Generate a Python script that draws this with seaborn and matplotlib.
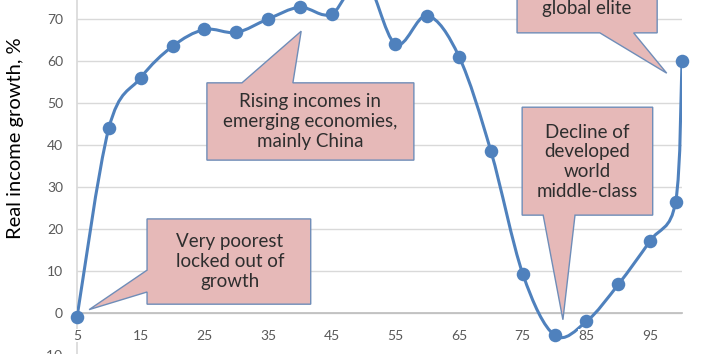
import numpy as np
import pandas as pd
import matplotlib
matplotlib.use("Agg")
import matplotlib.pyplot as plt
from matplotlib.path import Path
from matplotlib.patches import PathPatch, Polygon
import seaborn as sns

# percentile of the global income distribution and real income growth (%)
percentile = [5, 10, 15, 20, 25, 30, 35, 40, 45, 50, 55, 60, 65, 70, 75, 80, 85, 90, 95, 99, 100]
growth = [-1, 44, 56, 63.5, 67.5, 66.8, 70, 72.8, 71.2, 80, 64, 70.8, 61, 38.5, 9.3, -5.3, -2, 6.8, 17.2, 26.5, 60]

x_ticks = [5, 15, 25, 35, 45, 55, 65, 75, 85, 95]
y_ticks = [-10, 0, 10, 20, 30, 40, 50, 60, 70]

notes = [
    "Very poorest\nlocked out of\ngrowth",
    "Rising incomes in\nemerging economies,\nmainly China",
    "global elite",
    "Decline of\ndeveloped\nworld\nmiddle-class",
]

df = pd.DataFrame({"percentile": percentile, "growth": growth})

sns.set_theme(style="white")
plt.rcParams["font.family"] = ["Lato", "DejaVu Sans"]

BLUE = "#4F81BD"
PINK = "#E6B9B8"
EDGE = "#6F8DB8"
TXT = "#2E2E2E"
GRID = "#D9D9D9"

fig = plt.figure(figsize=(7.08, 3.54), dpi=100)
ax = fig.add_axes([77 / 708, -1 / 354, 605 / 708, 378 / 354])
ax.set_xlim(5, 100)
ax.set_ylim(-10, 80)

# smoothed line through the points (Catmull-Rom style, like Excel's smoothing)
pts = df[["percentile", "growth"]].to_numpy(dtype=float)
verts = [pts[0]]
codes = [Path.MOVETO]
n = len(pts)
for i in range(n - 1):
    p0 = pts[i - 1] if i > 0 else pts[i]
    p1 = pts[i]
    p2 = pts[i + 1]
    p3 = pts[i + 2] if i + 2 < n else pts[i + 1]
    c1 = p1 + (p2 - p0) / 6
    c2 = p2 - (p3 - p1) / 6
    verts += [c1, c2, p2]
    codes += [Path.CURVE4] * 3
ax.add_patch(PathPatch(Path(verts, codes), fill=False, edgecolor=BLUE, lw=2.2, zorder=3))

sns.scatterplot(data=df, x="percentile", y="growth", color=BLUE, s=95,
                edgecolor=BLUE, linewidth=0, ax=ax, zorder=4, clip_on=False)

# axes styling
ax.set_xticks(x_ticks)
ax.set_yticks(y_ticks)
ax.yaxis.grid(True, color=GRID, lw=1)
ax.xaxis.grid(False)
for s in ["top", "right"]:
    ax.spines[s].set_visible(False)
ax.spines["left"].set_color(GRID)
ax.spines["bottom"].set_position(("data", 0))
ax.spines["bottom"].set_color("#BFBFBF")
ax.tick_params(axis="x", direction="out", length=4, color="#BFBFBF", pad=8,
               labelsize=10, labelcolor="#595959")
ax.tick_params(axis="y", length=0, pad=10, labelsize=10, labelcolor="#595959")
ax.xaxis.set_zorder(3.5)
for lbl in ax.get_xticklabels():
    lbl.set_bbox(dict(facecolor="white", edgecolor="none", pad=0.5))
ax.set_xlabel("")
ax.set_ylabel("")
fig.text(16 / 708, 1 - 138 / 354, "Real income growth, %", rotation=90,
         ha="center", va="center", fontsize=14.5, color="black")

# callouts: box + wedge pointer
shapes = [
    [(16.0, 22.4), (41.7, 22.4), (41.7, 2.1), (16.0, 2.1), (16.0, 5.0), (6.9, 0.8), (16.0, 10.2)],
    [(25.4, 54.8), (30.9, 54.8), (40.2, 67.1), (38.9, 54.8), (57.9, 54.8), (57.9, 36.4), (25.4, 36.4)],
    [(74.1, 84.0), (96.1, 84.0), (96.1, 66.7), (92.4, 66.7), (97.6, 57.1), (87.1, 66.7), (74.1, 66.7)],
    [(74.9, 49.0), (95.4, 49.0), (95.4, 23.3), (83.2, 23.3), (81.3, -1.6), (78.2, 23.3), (74.9, 23.3)],
]
text_pos = [(29.0, 12.2), (41.6, 45.6), (85.0, 72.6), (85.1, 36.0)]
for shp, (tx, ty), note in zip(shapes, text_pos, notes):
    ax.add_patch(Polygon(shp, closed=True, facecolor=PINK, edgecolor=EDGE,
                         lw=1, zorder=5, clip_on=False))
    ax.text(tx, ty, note, ha="center", va="center", fontsize=13.5, color=TXT,
            linespacing=1.2, zorder=6)

fig.savefig("out.png", dpi=100)
